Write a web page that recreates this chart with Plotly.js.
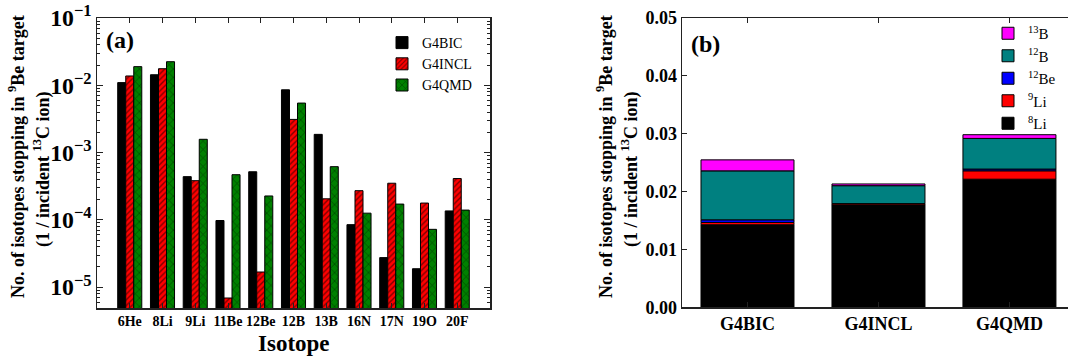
<!DOCTYPE html>
<html><head><meta charset="utf-8">
<script src="https://cdn.plot.ly/plotly-3.0.1.min.js"></script>
<style>html,body{margin:0;padding:0;background:#fff;overflow:hidden}#chart{width:1068px;height:356px}</style>
</head><body><div id="chart"></div>
<script>
// Panel (a): isotope yields (log scale)
const isotopes = ['6He','8Li','9Li','11Be','12Be','12B','13B','16N','17N','19O','20F'];
const g4bic  = [0.0110, 0.0144, 4.4e-4, 9.8e-5, 5.2e-4, 8.6e-3, 1.87e-3, 8.5e-5, 2.75e-5, 1.88e-5, 1.36e-4];
const g4incl = [0.0138, 0.0177, 3.83e-4, 6.9e-6, 1.68e-5, 3.12e-3, 2.06e-4, 2.72e-4, 3.51e-4, 1.78e-4, 4.12e-4];
const g4qmd  = [0.0190, 0.0225, 1.58e-3, 4.7e-4, 2.27e-4, 5.46e-3, 6.19e-4, 1.26e-4, 1.72e-4, 7.24e-5, 1.40e-4];

// Panel (b): stacked yields per model
const models = ['G4BIC','G4INCL','G4QMD'];
const li8  = [0.01426, 0.01768, 0.02214];
const li9  = [0.00040, 0.00022, 0.00145];
const be12 = [0.00046, 0.00002, 0.00030];
const b12  = [0.00846, 0.00310, 0.00530];
const b13  = [0.00190, 0.00030, 0.00064];
const stackNames = ['<sup>8</sup>Li','<sup>9</sup>Li','<sup>12</sup>Be','<sup>12</sup>B','<sup>13</sup>B'];
const stackColors = ['#000000','#ff0000','#0000ff','#008080','#ff00ff'];

const FONT = 'Liberation Serif, Times New Roman, serif';
const lineCol = '#222';
const bw = 0.245;

const traces = [];
traces.push({type:'bar', x:isotopes, y:g4bic, name:'G4BIC', width:bw, offset:-1.5*bw,
  marker:{color:'#000', line:{color:'#000', width:1}}, xaxis:'x', yaxis:'y', legend:'legend'});
traces.push({type:'bar', x:isotopes, y:g4incl, name:'G4INCL', width:bw, offset:-0.5*bw,
  marker:{color:'#ff0000', line:{color:'#000', width:1},
    pattern:{shape:'/', fgcolor:'#000', bgcolor:'#ff0000', size:4, solidity:0.35, fillmode:'overlay'}},
  xaxis:'x', yaxis:'y', legend:'legend'});
traces.push({type:'bar', x:isotopes, y:g4qmd, name:'G4QMD', width:bw, offset:0.5*bw,
  marker:{color:'#008000', line:{color:'#000', width:1},
    pattern:{shape:'x', fgcolor:'#000', bgcolor:'#008000', size:6, solidity:0.2, fillmode:'overlay'}},
  xaxis:'x', yaxis:'y', legend:'legend'});

const stackData = [li8, li9, be12, b12, b13];
let base = [0,0,0];
stackData.forEach((arr, i) => {
  traces.push({type:'bar', x:models, y:arr, base:base.slice(), name:stackNames[i], width:0.71,
    marker:{color:stackColors[i], line:{color:'#000', width:1}},
    xaxis:'x2', yaxis:'y2', legend:'legend2'});
  base = base.map((b, j) => b + arr[j]);
});

const px = v => v/1068, py = v => 1 - v/356;

const layout = {
  width:1068, height:356, margin:{l:0,r:0,t:0,b:0},
  paper_bgcolor:'#fff', plot_bgcolor:'#fff',
  barmode:'overlay', showlegend:true,
  font:{family:FONT, color:'#000'},
  xaxis:{domain:[px(97), px(490)], range:[-1, 11], type:'category', tickangle:0,
    showline:true, linecolor:lineCol, linewidth:1.5, mirror:'allticks',
    ticks:'inside', ticklen:5, tickcolor:lineCol, showgrid:false, zeroline:false,
    tickfont:{family:FONT, size:14, weight:'bold'}},
  yaxis:{domain:[py(308), py(18)], type:'log', range:[Math.log10(4.9e-6), -0.998],
    showline:true, linecolor:lineCol, linewidth:1.5, mirror:'allticks',
    ticks:'inside', ticklen:6, tickcolor:lineCol, dtick:1, exponentformat:'power',
    showgrid:false, zeroline:false, ticklabeloverflow:'allow',
    minor:{ticks:'inside', ticklen:3, dtick:'D1', tickcolor:lineCol, showgrid:false},
    tickfont:{family:FONT, size:19, weight:'bold'}},
  xaxis2:{domain:[px(682), 1], range:[-0.5, 2.447], type:'category', tickangle:0,
    showline:true, linecolor:lineCol, linewidth:1.5, mirror:'ticks',
    ticks:'inside', ticklen:5, tickcolor:lineCol, showgrid:false, zeroline:false,
    tickfont:{family:FONT, size:18, weight:'bold'}, anchor:'y2'},
  yaxis2:{domain:[py(307.3), py(18)], range:[0, 0.05], dtick:0.01, tickformat:'.2f',
    showline:true, linecolor:lineCol, linewidth:1.5, mirror:false,
    ticks:'inside', ticklen:5, tickcolor:lineCol, showgrid:false, zeroline:false,
    tickfont:{family:FONT, size:18, weight:'bold'}, anchor:'x2'},
  legend:{x:px(382), y:py(27), xanchor:'left', yanchor:'top', bgcolor:'rgba(0,0,0,0)',
    font:{family:FONT, size:14}, traceorder:'normal', itemclick:false},
  legend2:{x:px(988), y:py(17), xanchor:'left', yanchor:'top', bgcolor:'rgba(0,0,0,0)',
    font:{family:FONT, size:15}, traceorder:'reversed', itemclick:false},
  annotations:[
    {text:'<b>(a)</b>', x:px(104), y:py(40), xref:'paper', yref:'paper', xanchor:'left', yanchor:'middle',
      showarrow:false, font:{family:FONT, size:24}},
    {text:'<b>(b)</b>', x:px(689), y:py(44), xref:'paper', yref:'paper', xanchor:'left', yanchor:'middle',
      showarrow:false, font:{family:FONT, size:24}},
    {text:'<b>Isotope</b>', x:px(293.5), y:py(343), xref:'paper', yref:'paper', xanchor:'center', yanchor:'middle',
      showarrow:false, font:{family:FONT, size:23}},
    {text:'<b>No. of isotopes stopping in <sup>9</sup>Be target</b>', x:px(16), y:py(157), xref:'paper', yref:'paper',
      xanchor:'center', yanchor:'middle', textangle:-90, showarrow:false, font:{family:FONT, size:18}},
    {text:'<b>(1 / incident <sup>13</sup>C ion)</b>', x:px(42), y:py(169), xref:'paper', yref:'paper',
      xanchor:'center', yanchor:'middle', textangle:-90, showarrow:false, font:{family:FONT, size:18}},
    {text:'<b>No. of isotopes stopping in <sup>9</sup>Be target</b>', x:px(604), y:py(157), xref:'paper', yref:'paper',
      xanchor:'center', yanchor:'middle', textangle:-90, showarrow:false, font:{family:FONT, size:18}},
    {text:'<b>(1 / incident <sup>13</sup>C ion)</b>', x:px(630), y:py(169), xref:'paper', yref:'paper',
      xanchor:'center', yanchor:'middle', textangle:-90, showarrow:false, font:{family:FONT, size:18}}
  ]
};

Plotly.newPlot('chart', traces, layout, {staticPlot:true, displayModeBar:false});
</script></body></html>
